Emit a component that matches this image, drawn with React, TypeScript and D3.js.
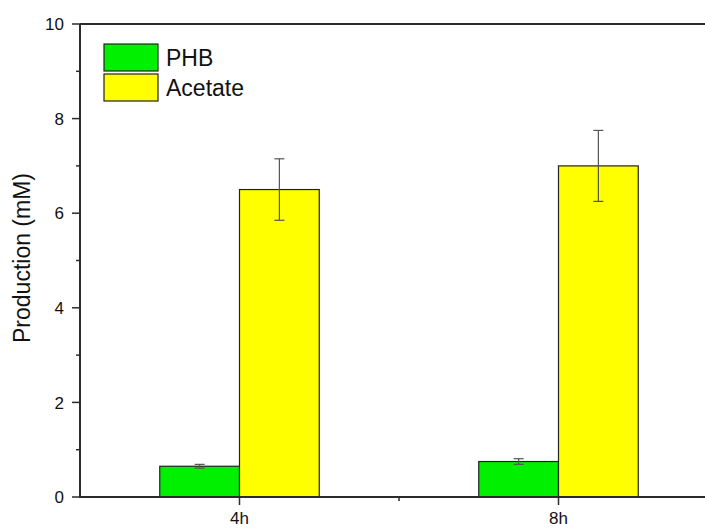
import React from "react";
import * as d3 from "d3";

// Production of PHB and acetate at two sampling times
const categories = ["4h", "8h"];
const seriesNames = ["PHB", "Acetate"];
const phbValues = [0.65, 0.75];
const phbErrors = [0.04, 0.06];
const acetateValues = [6.5, 7.0];
const acetateErrors = [0.65, 0.75];
const yTicks = [0, 2, 4, 6, 8, 10];
const yMinorTicks = [1, 3, 5, 7, 9];

const W = 705;
const H = 529;
const FONT = "Arial, 'Liberation Sans', Helvetica, sans-serif";
const colors = ["#00f000", "#ffff00"];

export default function App() {
  const x = d3.scaleLinear().domain([0.5, 2.5]).range([80, 718]);
  const y = d3.scaleLinear().domain([0, 10]).range([497, 24]);
  const barW = x(1.25) - x(1);

  const series = [
    { name: seriesNames[0], values: phbValues, errors: phbErrors, offset: -1 },
    { name: seriesNames[1], values: acetateValues, errors: acetateErrors, offset: 0 },
  ];

  const axisColor = "#2b2b2b";
  const errColor = "#555";

  return (
    <svg
      width={W}
      height={H}
      style={{ position: "fixed", left: 0, top: 0, background: "#fff" }}
      fontFamily={FONT}
    >
      {/* bars */}
      {series.map((s, si) =>
        s.values.map((v, i) => {
          const cx = x(i + 1);
          const x0 = cx + s.offset * barW;
          return (
            <rect
              key={`${si}-${i}`}
              x={x0}
              y={y(v)}
              width={barW}
              height={y(0) - y(v)}
              fill={colors[si]}
              stroke="#222"
              strokeWidth={1.2}
            />
          );
        })
      )}
      {/* error bars */}
      {series.map((s, si) =>
        s.values.map((v, i) => {
          const cx = x(i + 1) + s.offset * barW + barW / 2;
          const top = y(v + s.errors[i]);
          const bot = y(v - s.errors[i]);
          return (
            <g key={`e-${si}-${i}`} stroke={errColor} strokeWidth={1.2}>
              <line x1={cx} x2={cx} y1={top} y2={bot} />
              <line x1={cx - 5} x2={cx + 5} y1={top} y2={top} />
              <line x1={cx - 5} x2={cx + 5} y1={bot} y2={bot} />
            </g>
          );
        })
      )}
      {/* frame */}
      <line x1={80} x2={W} y1={y(10)} y2={y(10)} stroke={axisColor} strokeWidth={2} />
      <line x1={80} x2={80} y1={y(10)} y2={y(0)} stroke={axisColor} strokeWidth={2} />
      <line x1={79} x2={W} y1={y(0)} y2={y(0)} stroke={axisColor} strokeWidth={2} />
      {/* y ticks */}
      {yTicks.map((t) => (
        <g key={`yt-${t}`}>
          <line x1={72} x2={80} y1={y(t)} y2={y(t)} stroke={axisColor} strokeWidth={1.5} />
          <text x={64} y={y(t)} dy="0.36em" textAnchor="end" fontSize={17} fill="#111">
            {t}
          </text>
        </g>
      ))}
      {yMinorTicks.map((t) => (
        <line key={`ym-${t}`} x1={76} x2={80} y1={y(t)} y2={y(t)} stroke={axisColor} strokeWidth={1.5} />
      ))}
      {/* x ticks */}
      {categories.map((c, i) => (
        <g key={`xt-${c}`}>
          <line x1={x(i + 1)} x2={x(i + 1)} y1={y(0)} y2={y(0) + 8} stroke={axisColor} strokeWidth={1.5} />
          <text x={x(i + 1)} y={y(0) + 27} textAnchor="middle" fontSize={17} fill="#111">
            {c}
          </text>
        </g>
      ))}
      <line x1={x(1.5)} x2={x(1.5)} y1={y(0)} y2={y(0) + 4} stroke={axisColor} strokeWidth={1.5} />
      {/* y axis title */}
      <text
        transform={`translate(30, 258) rotate(-90)`}
        textAnchor="middle"
        fontSize={23}
        fill="#111"
      >
        Production (mM)
      </text>
      {/* legend */}
      {series.map((s, si) => (
        <g key={`lg-${si}`} transform={`translate(104, ${44 + si * 30})`}>
          <rect x={0} y={0} width={54} height={27} fill={colors[si]} stroke="#222" strokeWidth={1.2} />
          <text x={62} y={22} fontSize={23} fill="#111">
            {s.name}
          </text>
        </g>
      ))}
    </svg>
  );
}
